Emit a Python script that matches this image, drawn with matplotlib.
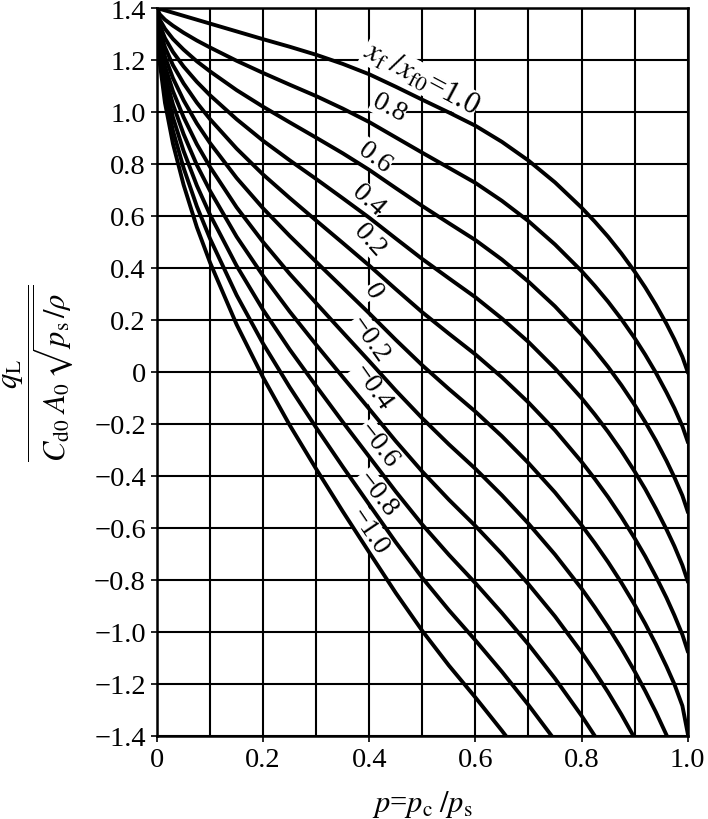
import matplotlib
matplotlib.use("Agg")
import matplotlib.pyplot as plt

plt.rcParams["font.family"] = ["Liberation Serif", "DejaVu Serif"]
plt.rcParams["mathtext.fontset"] = "stix"

# p = pc/ps sample points
p = [0, 0.005, 0.015, 0.03, 0.05, 0.075, 0.1, 0.15, 0.2, 0.25, 0.3, 0.35, 0.4, 0.45,
     0.5, 0.55, 0.6, 0.65, 0.7, 0.75, 0.8, 0.825, 0.85, 0.875, 0.9, 0.92, 0.94, 0.96,
     0.975, 0.99, 1.0]

# curves for xf/xf0 = 1.0 ... -1.0 (the lower ones run out of the axes)
q_10 = [1.400, 1.397, 1.391, 1.382, 1.370, 1.355, 1.340, 1.310, 1.280, 1.251, 1.220, 1.185, 1.145, 1.097,
        1.047, 0.998, 0.947, 0.885, 0.813, 0.729, 0.632, 0.578, 0.520, 0.456, 0.386, 0.325, 0.258, 0.185,
        0.125, 0.058, 0.0]
q_08 = [1.400, 1.376, 1.355, 1.332, 1.305, 1.275, 1.248, 1.197, 1.150, 1.105, 1.061, 1.013, 0.961, 0.902,
        0.843, 0.785, 0.727, 0.658, 0.580, 0.490, 0.388, 0.331, 0.270, 0.203, 0.130, 0.066, -0.003, -0.079,
        -0.140, -0.209, -0.268]
q_06 = [1.400, 1.356, 1.320, 1.281, 1.240, 1.195, 1.156, 1.084, 1.020, 0.960, 0.901, 0.841, 0.777, 0.707,
        0.638, 0.572, 0.507, 0.432, 0.347, 0.252, 0.143, 0.083, 0.019, -0.051, -0.127, -0.193, -0.264, -0.342,
        -0.406, -0.476, -0.537]
q_04 = [1.400, 1.335, 1.284, 1.231, 1.175, 1.116, 1.064, 0.972, 0.889, 0.814, 0.742, 0.668, 0.593, 0.513,
        0.434, 0.360, 0.287, 0.205, 0.115, 0.013, -0.101, -0.164, -0.231, -0.304, -0.383, -0.451, -0.526, -0.606,
        -0.671, -0.744, -0.805]
q_02 = [1.400, 1.315, 1.249, 1.180, 1.110, 1.036, 0.972, 0.859, 0.759, 0.669, 0.582, 0.496, 0.409, 0.318,
        0.229, 0.147, 0.067, -0.021, -0.118, -0.225, -0.346, -0.412, -0.482, -0.558, -0.640, -0.710, -0.787, -0.869,
        -0.937, -1.011, -1.074]
q_00 = [1.400, 1.294, 1.213, 1.130, 1.045, 0.956, 0.880, 0.746, 0.629, 0.523, 0.423, 0.324, 0.225, 0.123,
        0.025, -0.066, -0.153, -0.248, -0.351, -0.464, -0.590, -0.659, -0.732, -0.811, -0.896, -0.969, -1.048, -1.133,
        -1.202, -1.285, -1.390]
q_m02 = [1.400, 1.273, 1.177, 1.080, 0.980, 0.876, 0.788, 0.633, 0.499, 0.377, 0.264, 0.152, 0.041, -0.072,
         -0.179, -0.279, -0.373, -0.475, -0.584, -0.703, -0.834, -0.906, -0.982, -1.064, -1.152, -1.228, -1.309, -1.397,
         -1.467]
q_m04 = [1.400, 1.253, 1.142, 1.029, 0.915, 0.796, 0.696, 0.520, 0.369, 0.232, 0.104, -0.020, -0.143, -0.267,
         -0.384, -0.492, -0.593, -0.701, -0.817, -0.941, -1.079, -1.154, -1.233, -1.318, -1.409, -1.487]
q_m06 = [1.400, 1.232, 1.106, 0.979, 0.850, 0.717, 0.604, 0.408, 0.238, 0.086, -0.055, -0.193, -0.327, -0.461,
         -0.588, -0.704, -0.813, -0.928, -1.049, -1.180, -1.323, -1.401, -1.483]
q_m08 = [1.400, 1.212, 1.071, 0.928, 0.785, 0.637, 0.512, 0.295, 0.108, -0.059, -0.215, -0.365, -0.511, -0.656,
         -0.793, -0.917, -1.033, -1.154, -1.282, -1.418, -1.568]
q_m10 = [1.400, 1.191, 1.035, 0.878, 0.720, 0.557, 0.420, 0.182, -0.022, -0.205, -0.374, -0.537, -0.695, -0.851,
         -0.997, -1.130, -1.253, -1.381, -1.515]

curves = [q_10, q_08, q_06, q_04, q_02, q_00, q_m02, q_m04, q_m06, q_m08, q_m10]

# curve labels: text, centre and rotation
labels = [r"$x_{\rm f}\;/x_{\rm f0}$=1.0", "0.8", "0.6", "0.4", "0.2", "0",
          "\u22120.2", "\u22120.4", "\u22120.6", "\u22120.8", "\u22121.0"]
label_x = [0.497, 0.437, 0.41, 0.398, 0.401, 0.407, 0.401, 0.405, 0.416, 0.414, 0.400]
label_y = [1.13, 1.019, 0.826, 0.661, 0.51, 0.311, 0.126, -0.058, -0.282, -0.47, -0.614]
label_rot = [-28, -28, -37, -42, -48, -60, -55, -55, -52, -52, -56]

yticks = [1.4, 1.2, 1.0, 0.8, 0.6, 0.4, 0.2, 0, -0.2, -0.4, -0.6, -0.8, -1.0, -1.2, -1.4]
ytick_labels = ["1.4", "1.2", "1.0", "0.8", "0.6", "0.4", "0.2", "0",
                "\u22120.2", "\u22120.4", "\u22120.6", "\u22120.8", "\u22121.0", "\u22121.2", "\u22121.4"]
xticks = [0, 0.2, 0.4, 0.6, 0.8, 1.0]
xtick_labels = ["0", "0.2", "0.4", "0.6", "0.8", "1.0"]

fig = plt.figure(figsize=(7.08, 8.2), dpi=100)
ax = fig.add_axes([0.2218, 0.1016, 0.7495, 0.8874])

for c in curves:
    ax.plot(p[:len(c)], c, color="black", lw=2.8, zorder=3, solid_joinstyle="round")

for t, x, y, r in zip(labels, label_x, label_y, label_rot):
    fs = 22 if t.startswith("$") else 20
    ax.text(x, y, t, rotation=r, rotation_mode="anchor", ha="center", va="center",
            fontsize=fs, zorder=2.5,
            bbox=dict(facecolor="white", edgecolor="none", pad=0.3))

ax.set_xlim(0, 1.0)
ax.set_ylim(-1.4, 1.4)
ax.set_xticks(xticks)
ax.set_xticklabels(xtick_labels)
ax.set_yticks(yticks)
ax.set_yticklabels(ytick_labels)
ax.set_xticks([0.1, 0.3, 0.5, 0.7, 0.9], minor=True)
ax.grid(True, which="both", color="black", lw=1.5, zorder=1)
ax.set_axisbelow(True)
ax.tick_params(which="both", direction="out", length=4, width=1.2, labelsize=20.5, pad=4)
ax.tick_params(which="minor", length=0)
for s in ax.spines.values():
    s.set_linewidth(1.8)

ax.set_ylabel(r"$\dfrac{q_{\rm L}}{C_{\rm d0}\;A_0\,\sqrt{p_{\rm s}\,/\rho\,}}$", fontsize=22, labelpad=14)
ax.set_xlabel(r"$p$=$p_{\rm c}\;/p_{\rm s}$", fontsize=22, labelpad=12)

fig.savefig("out.png", dpi=100)
